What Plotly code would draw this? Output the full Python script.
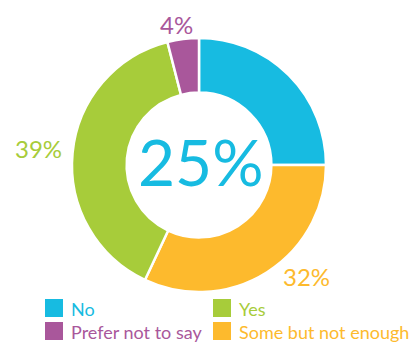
import plotly.graph_objects as go

# Survey answers, in clockwise order from 12 o'clock
labels = ["No", "Some but not enough", "Yes", "Prefer not to say"]
values = [25, 32, 39, 4]
colors = ["#17BBE1", "#FDBA2D", "#A7CC3A", "#A9579B"]

# Legend layout: two columns, two rows
legend_rows = [["No", "Yes"], ["Prefer not to say", "Some but not enough"]]

W, H = 417, 342
FONT = "Lato"


def px_x(x):
    return x / W


def px_y(y):
    return 1 - y / H


fig = go.Figure(
    go.Pie(
        labels=labels,
        values=values,
        sort=False,
        direction="clockwise",
        rotation=0,
        hole=0.57,
        textinfo="none",
        hoverinfo="label+percent",
        marker=dict(colors=colors, line=dict(color="white", width=2.5)),
        domain=dict(x=[px_x(72), px_x(326)], y=[px_y(292), px_y(38)]),
        showlegend=False,
    )
)

color_of = dict(zip(labels, colors))
value_of = dict(zip(labels, values))

annotations = []

# Headline share in the hole
annotations.append(dict(
    x=px_x(201), y=px_y(161), xref="paper", yref="paper",
    text=f"{value_of['No']}%", showarrow=False,
    font=dict(family=FONT, size=64, color=color_of["No"]),
    xanchor="center", yanchor="middle",
))

# Outside percentage labels
outside = [
    ("Prefer not to say", 176, 25),
    ("Yes", 38, 149),
    ("Some but not enough", 306, 276),
]
for name, x, y in outside:
    annotations.append(dict(
        x=px_x(x), y=px_y(y), xref="paper", yref="paper",
        text=f"{value_of[name]}%", showarrow=False,
        font=dict(family=FONT, size=24, color=color_of[name]),
        xanchor="center", yanchor="middle",
    ))

# Custom legend: colour squares with labels
shapes = []
col_x = [45, 213]
row_y = [308, 331]
sq = 18
for r, row in enumerate(legend_rows):
    for c, name in enumerate(row):
        x0 = col_x[c]
        yc = row_y[r]
        shapes.append(dict(
            type="rect", xref="paper", yref="paper",
            x0=px_x(x0), x1=px_x(x0 + sq),
            y0=px_y(yc + sq / 2), y1=px_y(yc - sq / 2),
            fillcolor=color_of[name], line=dict(width=0),
        ))
        annotations.append(dict(
            x=px_x(x0 + sq + 6), y=px_y(yc + 1), xref="paper", yref="paper",
            text=name, showarrow=False,
            font=dict(family=FONT, size=18, color=color_of[name]),
            xanchor="left", yanchor="middle",
        ))

fig.update_layout(
    width=W, height=H,
    margin=dict(l=0, r=0, t=0, b=0),
    paper_bgcolor="white", plot_bgcolor="white",
    annotations=annotations,
    shapes=shapes,
)

fig.write_html("out.html")
